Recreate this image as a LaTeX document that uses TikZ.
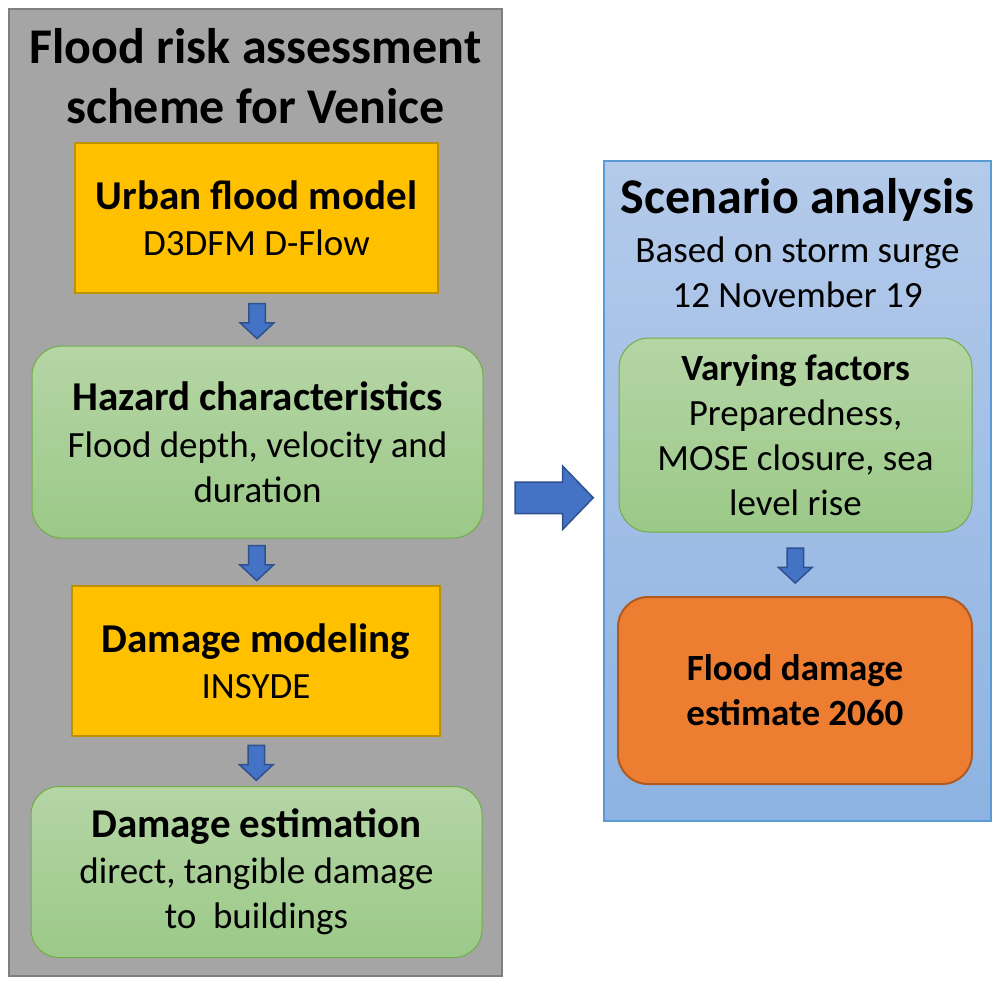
\documentclass[tikz,border=0pt]{standalone}
\usepackage{fontspec}
\setmainfont{Carlito}
\usepackage{xcolor}
\usetikzlibrary{shapes.arrows, calc}

\definecolor{panelgray}{HTML}{A5A5A5}
\definecolor{panelline}{HTML}{7F7F7F}
\definecolor{bluetop}{HTML}{B4CAEA}
\definecolor{bluebottom}{HTML}{8EB3E2}
\definecolor{blueline}{HTML}{5B9BD5}
\definecolor{gold}{HTML}{FFC000}
\definecolor{goldline}{HTML}{BF9000}
\definecolor{greentop}{HTML}{B5D5A5}
\definecolor{greenbottom}{HTML}{9BC988}
\definecolor{greenline}{HTML}{70AD47}
\definecolor{rust}{HTML}{ED7D31}
\definecolor{rustline}{HTML}{AE5A21}
\definecolor{arrowfill}{HTML}{4472C4}
\definecolor{arrowline}{HTML}{2F528F}

\newcommand{\boxhead}[1]{{\bfseries\fontsize{41}{45}\selectfont #1}}

\tikzset{
	body/.style={font=\fontsize{37}{45}\selectfont, align=center, inner sep=0pt},
	goldbox/.style={body, draw=goldline, fill=gold, line width=2pt},
	greenbox/.style={body, draw=greenline, top color=greentop, bottom color=greenbottom, line width=1pt, rounded corners=30pt},
	rustbox/.style={body, draw=rustline, fill=rust, line width=2pt, rounded corners=30pt},
	downarrow/.style={single arrow, draw=arrowline, fill=arrowfill, line width=1.5pt, inner sep=7.5pt,
		single arrow head extend=8.5pt, single arrow tip angle=94, minimum height=35pt, shape border rotate=270},
	bigarrow/.style={single arrow, draw=arrowline, fill=arrowfill, line width=1.5pt, inner sep=15pt,
		single arrow head extend=16pt, single arrow tip angle=92, minimum height=78pt}
}

\begin{document}
\begin{tikzpicture}[x=1pt, y=-1pt]
	\useasboundingbox (0,0) rectangle (1000,986);

	% left panel
	\node [draw=panelline, fill=panelgray, line width=2pt, minimum width=493pt, minimum height=967pt] (gray) at (255.5,492.5) {};
	\node [align=center, font=\bfseries\fontsize{50}{60}\selectfont, inner sep=0pt] (title) at (255.5,76) {Flood risk assessment\\ scheme for Venice};

	\node [goldbox, minimum width=363pt, minimum height=150pt] (urban) at (256.5,218) {\boxhead{Urban flood model}\\[1pt] D3DFM D-Flow};
	\node [greenbox, minimum width=451pt, minimum height=192pt] (hazard) at (257.5,442) {\boxhead{Hazard characteristics}\\[2pt] Flood depth, velocity and\\ duration};
	\node [goldbox, minimum width=368pt, minimum height=150pt] (modeling) at (256,661) {\boxhead{Damage modeling}\\[1pt] INSYDE};
	\node [greenbox, rounded corners=28pt, minimum width=451pt, minimum height=171pt] (estimation) at (256.5,872) {\boxhead{Damage estimation}\\[1pt] direct, tangible damage\ \\ to\ \ buildings};

	\node [downarrow] (a1) at ($(urban.south)!0.5!(hazard.north)+(0,-2.5)$) {};
	\node [downarrow] (a2) at ($(hazard.south)!0.5!(modeling.north)+(0,-2.5)$) {};
	\node [downarrow] (a3) at ($(modeling.south)!0.5!(estimation.north)+(0,-2.5)$) {};

	% right panel
	\node [draw=blueline, top color=bluetop, bottom color=bluebottom, line width=1.5pt, minimum width=387pt, minimum height=660pt] (blue) at (797.5,491) {};
	\node [body] (scenario) at (797.5,243) {{\bfseries\fontsize{50}{60}\selectfont Scenario analysis}\\[4pt] Based on storm surge\\ 12 November 19};

	\node [greenbox, minimum width=353pt, minimum height=194pt] (factors) at (795.5,435) {\textbf{Varying factors}\\ Preparedness,\\ MOSE closure, sea\\ level rise};
	\node [rustbox, font=\bfseries\fontsize{37}{45}\selectfont, minimum width=354pt, minimum height=187pt] (estimate) at (795,690.5) {Flood damage\\ estimate 2060};

	\node [downarrow] (a4) at ($(factors.south)!0.5!(estimate.north)+(0,-2.5)$) {};

	\node [bigarrow] (a5) at ($(gray.east)!0.5!(blue.west)+(-6.5,6)$) {};
\end{tikzpicture}
\end{document}
